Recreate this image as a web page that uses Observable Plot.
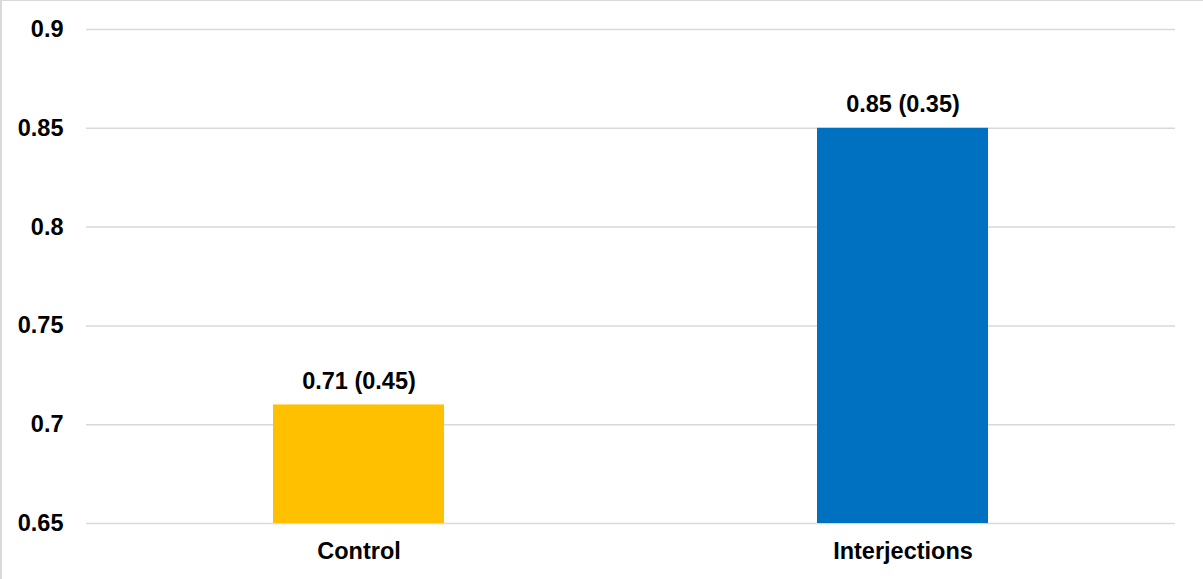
<!DOCTYPE html>
<html>
<head>
<meta charset="utf-8">
<script src="https://cdn.jsdelivr.net/npm/d3@7"></script>
<script src="https://cdn.jsdelivr.net/npm/@observablehq/plot@0.6"></script>
<style>
  html, body { margin: 0; padding: 0; background: #fff; }
  #wrap { position: relative; width: 1203px; height: 579px; overflow: hidden; }
  #edge { position: absolute; left: 0; top: 0; right: 0; bottom: 0;
          border-left: 2px solid #d9d9d9; border-top: 1px solid #d9d9d9;
          pointer-events: none; }
  svg { display: block; }
</style>
</head>
<body>
<div id="wrap"><div id="edge"></div></div>
<script>
// Groups, mean scores and their spread (shown in parentheses)
const groups = ["Control", "Interjections"];
const means = [0.71, 0.85];
const spreads = [0.45, 0.35];
const barColors = ["#FFC000", "#0070C0"];
const yTicks = [0.65, 0.7, 0.75, 0.8, 0.85, 0.9];
const yBase = 0.65;

const rows = groups.map((g, i) => ({
  group: g,
  mean: means[i],
  spread: spreads[i],
  color: barColors[i],
  label: `${means[i].toFixed(2)} (${spreads[i].toFixed(2)})`
}));

const font = "'Liberation Sans', Arial, sans-serif";

const chart = Plot.plot({
  width: 1203,
  height: 579,
  marginLeft: 86,
  marginRight: 28,
  marginTop: 29,
  marginBottom: 56,
  style: { fontFamily: font, fontSize: "23.5px", fontWeight: "bold", color: "#000", background: "transparent" },
  x: { domain: groups, paddingInner: 0.686, paddingOuter: 0.343, label: null },
  y: { domain: [yBase, yTicks[yTicks.length - 1]], label: null },
  marks: [
    Plot.ruleY(yTicks, { stroke: "#d9d9d9", strokeWidth: 1.5 }),
    Plot.barY(rows, { x: "group", y1: () => yBase, y2: "mean", fill: "color" }),
    Plot.text(rows, { x: "group", y: "mean", text: "label", dy: -23.5, fill: "#000",
                      fontSize: 23.5, fontWeight: "bold", lineAnchor: "middle" }),
    Plot.axisY(yTicks, { tickSize: 0, tickPadding: 23, tickFormat: d => String(d),
                         fontSize: 23.5, fontWeight: "bold", fill: "#000" }),
    Plot.axisX({ tickSize: 0, tickPadding: 19, fontSize: 23.5, fontWeight: "bold", fill: "#000" })
  ]
});

document.getElementById("wrap").prepend(chart);
</script>
</body>
</html>
